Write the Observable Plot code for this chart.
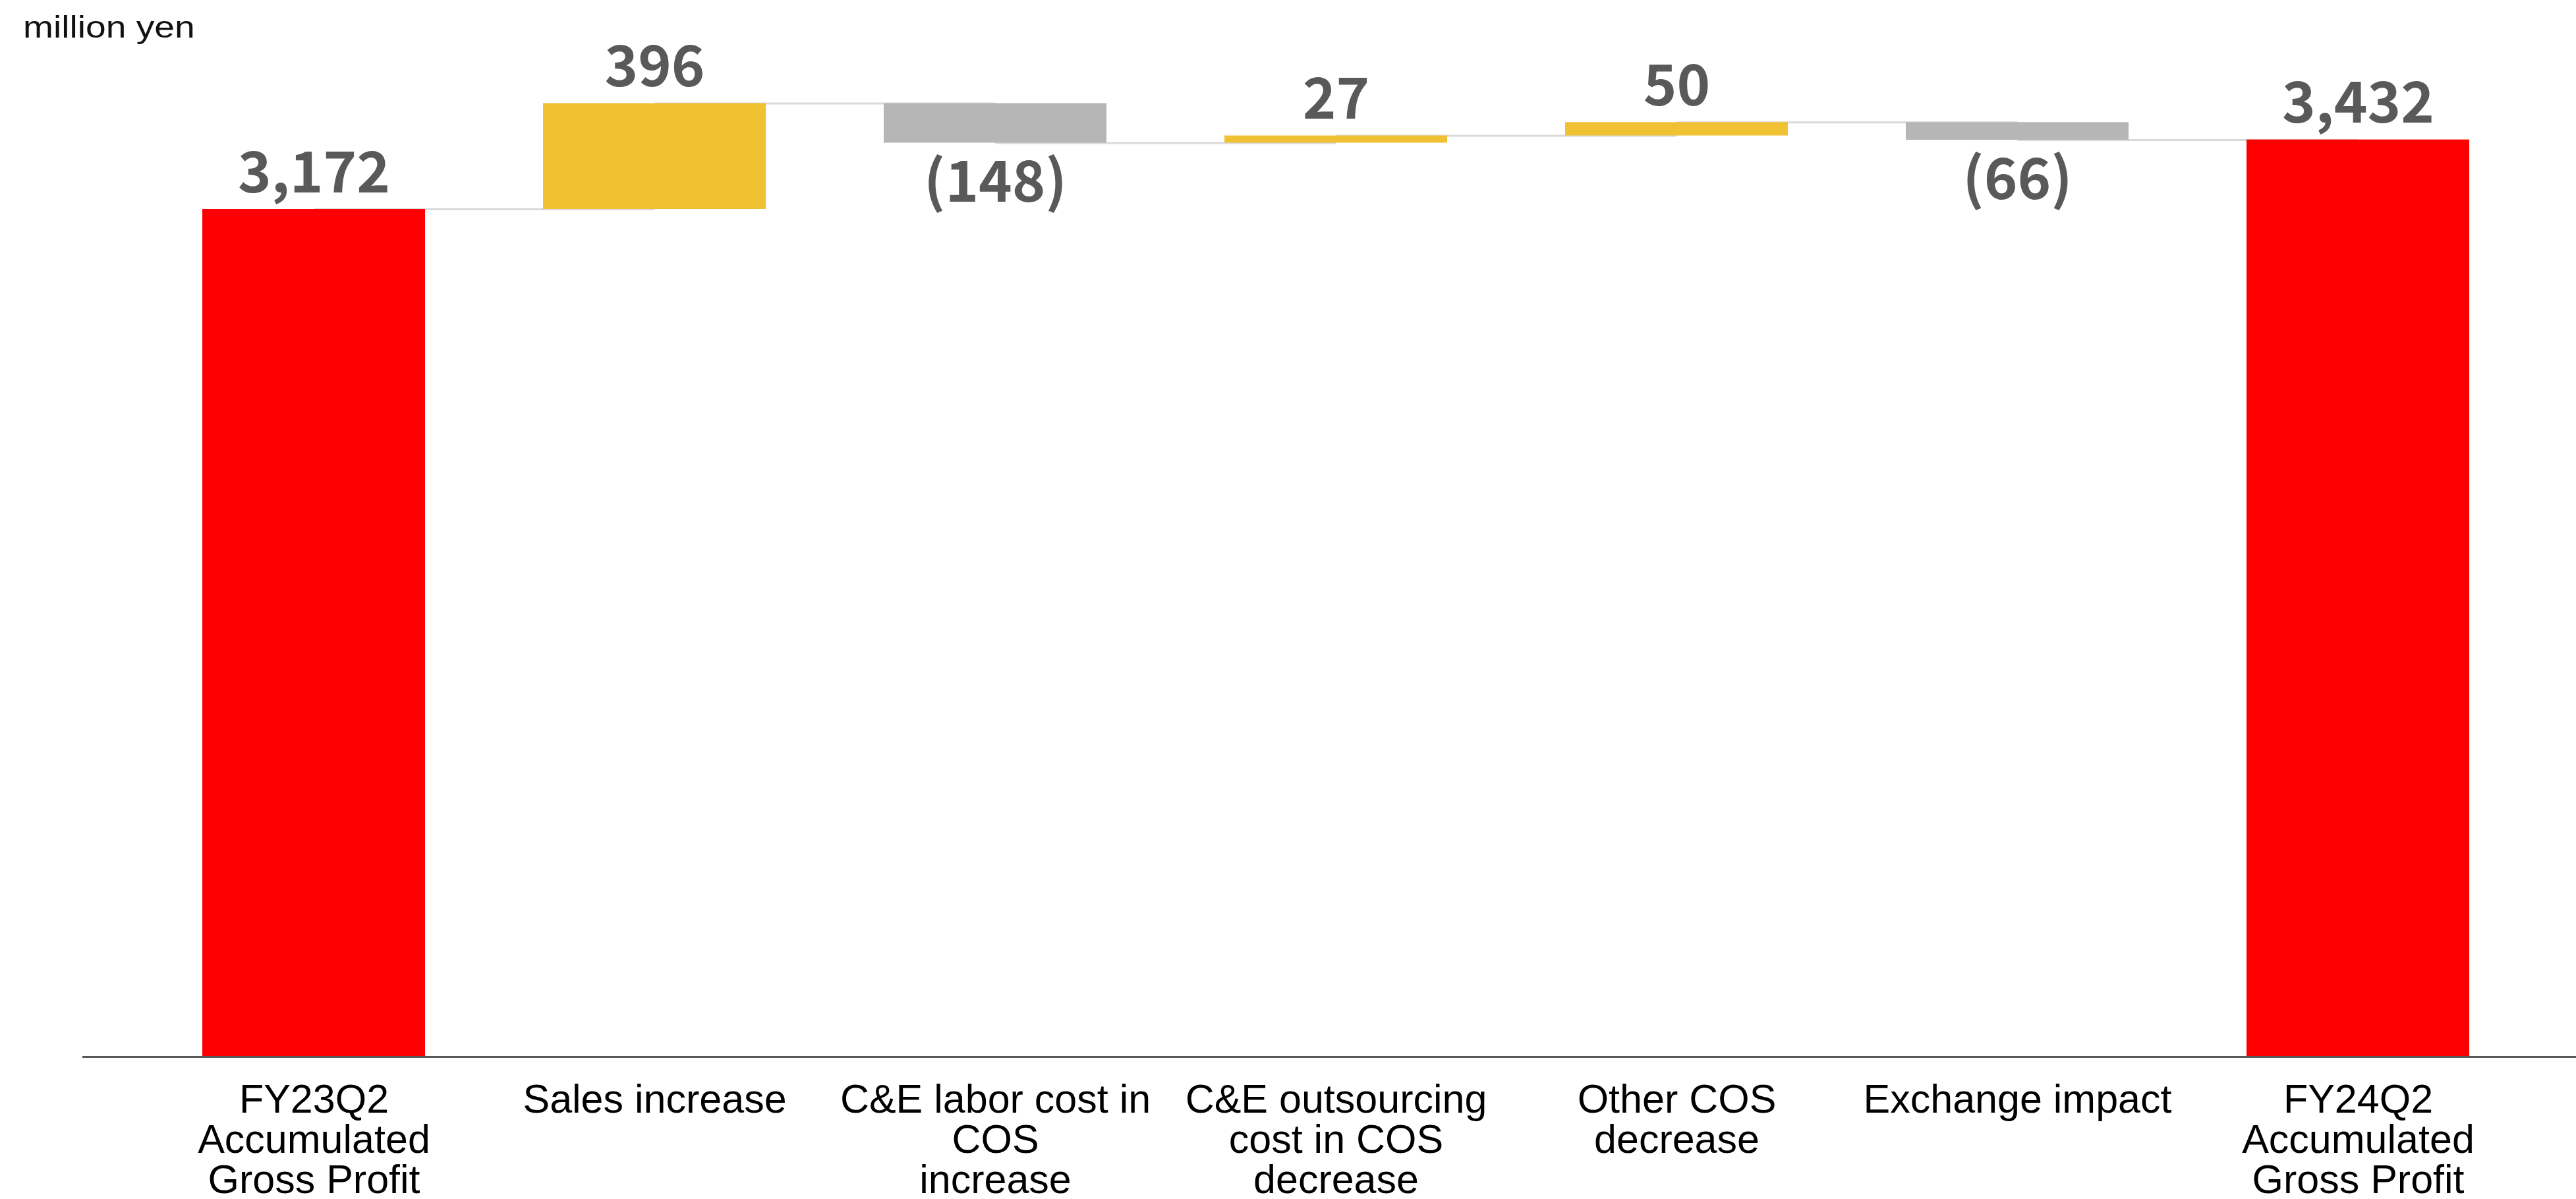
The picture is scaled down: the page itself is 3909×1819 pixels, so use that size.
<!DOCTYPE html>
<html>
<head>
<meta charset="utf-8">
<script src="https://cdn.jsdelivr.net/npm/d3@7"></script>
<script src="https://cdn.jsdelivr.net/npm/@observablehq/plot@0.6"></script>
<style>
  html, body { margin: 0; padding: 0; background: #ffffff; }
  #wrap { position: relative; width: 3909px; height: 1819px; }
  #unit {
    position: absolute; left: 35px; top: 18px;
    font-family: "Liberation Sans", Arial, sans-serif;
    font-size: 46px; line-height: 1; color: #111111;
    transform: scaleX(1.2); transform-origin: left top; white-space: nowrap;
  }
</style>
</head>
<body>
<div id="wrap"><div id="unit">million yen</div></div>
<script>
// ---- data ----
const categories = [
  "FY23Q2\nAccumulated\nGross Profit",
  "Sales increase",
  "C&E labor cost in\nCOS\nincrease",
  "C&E outsourcing\ncost in COS\ndecrease",
  "Other COS\ndecrease",
  "Exchange impact",
  "FY24Q2\nAccumulated\nGross Profit"
];
const values = [3172, 396, -148, 27, 50, -66, 3432];
const isTotal = [true, false, false, false, false, false, true];

// ---- styles ----
const colorTotal = "#ff0000";
const colorUp = "#f0c132";
const colorDown = "#b6b6b6";
const labelColor = "#595959";

// ---- derived waterfall table ----
let cum = 0;
const rows = categories.map((cat, i) => {
  const v = values[i];
  let start, end;
  if (isTotal[i]) { start = 0; end = v; cum = v; }
  else { start = cum; end = cum + v; cum = end; }
  const color = isTotal[i] ? colorTotal : (v >= 0 ? colorUp : colorDown);
  return {cat, value: v, start, end, color};
});
const connectors = rows.slice(0, -1).map((d, i) => ({a: d.cat, b: rows[i + 1].cat, y: d.end}));

const fmt = v => v < 0 ? `(${d3.format(",")(-v)})` : d3.format(",")(v);

const numFont = "'Noto Sans CJK JP', 'Noto Sans', sans-serif";
const catFont = "'Liberation Sans', Arial, sans-serif";

const chart = Plot.plot({
  width: 3909,
  height: 1819,
  marginTop: 0,
  marginBottom: 216,
  marginLeft: 125,
  marginRight: 0,
  style: {background: "transparent", overflow: "visible"},
  x: {domain: categories, range: [215, 3839], paddingInner: 0.347, paddingOuter: 0.1735, axis: null},
  y: {domain: [0, 3954], axis: null},
  color: {type: "identity"},
  marks: [
    Plot.link(connectors, {x1: "a", x2: "b", y1: "y", y2: "y", stroke: "#d9d9d9", strokeWidth: 3}),
    Plot.barY(rows, {x: "cat", y1: "start", y2: "end", fill: "color"}),
    Plot.ruleY([0], {stroke: "#595959", strokeWidth: 3}),
    Plot.text(rows.filter(d => d.value >= 0), {
      x: "cat", y: "end", text: d => fmt(d.value),
      lineAnchor: "bottom", dy: -26,
      fill: labelColor, fontSize: 86, fontWeight: "bold", fontFamily: numFont
    }),
    Plot.text(rows.filter(d => d.value < 0), {
      x: "cat", y: "end", text: d => fmt(d.value),
      lineAnchor: "top", dy: 28,
      fill: labelColor, fontSize: 86, fontWeight: "bold", fontFamily: numFont
    }),
    Plot.text(categories, {
      x: d => d, text: d => d, frameAnchor: "bottom", lineAnchor: "top", dy: 41,
      lineHeight: 1.0, fontSize: 61, fill: "#000000", fontFamily: catFont
    })
  ]
});
chart.style.position = "absolute";
chart.style.left = "0px";
chart.style.top = "0px";
document.getElementById("wrap").prepend(chart);
</script>
</body>
</html>
